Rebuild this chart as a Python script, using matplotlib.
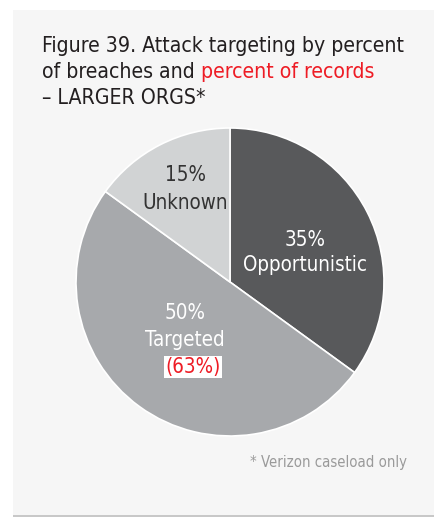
import matplotlib.pyplot as plt
from matplotlib.patches import Rectangle

# data
labels = ["Opportunistic", "Targeted", "Unknown"]
breaches = [35, 50, 15]
records_targeted = 63
colors = ["#58595b", "#a7a9ac", "#d1d3d4"]

red = "#ee1c25"
txt = "#231f20"
plt.rcParams['font.family'] = ['DejaVu Sans']
plt.rcParams['font.stretch'] = 'condensed'

fig = plt.figure(figsize=(4.35, 5.17), dpi=100)
fig.patch.set_facecolor("white")
# grey panel
fig.patches.append(Rectangle((13 / 435, 2 / 517), 1, 505 / 517, transform=fig.transFigure,
                             facecolor="#f6f6f6", edgecolor="none", zorder=-2))
fig.patches.append(Rectangle((13 / 435, 0), 1, 2 / 517, transform=fig.transFigure,
                             facecolor="#c8c8c8", edgecolor="none", zorder=-2))

# title
x0 = 42 / 435
fs = 15.2
fig.text(x0, 1 - 46 / 517, "Figure 39. Attack targeting by percent", fontsize=fs, color=txt, va="center")
t = fig.text(x0, 1 - 72 / 517, "of breaches and ", fontsize=fs, color=txt, va="center")
fig.canvas.draw()
bb = t.get_window_extent(renderer=fig.canvas.get_renderer())
fig.text(bb.x1 / fig.bbox.width, 1 - 72 / 517, "percent of records", fontsize=fs, color=red, va="center")
fig.text(x0, 1 - 98 / 517, "– LARGER ORGS*", fontsize=fs, color=txt, va="center")

# pie
ax = fig.add_axes([76 / 435, 81 / 517, 308 / 435, 308 / 517], zorder=2)
ax.pie(breaches, colors=colors, startangle=90, counterclock=False, radius=1,
       wedgeprops=dict(edgecolor="white", linewidth=1.2))
ax.set_xlim(-1, 1)
ax.set_ylim(-1, 1)
ax.set_aspect("equal")
ax.axis("off")

lfs = 14.8
ax.text(0.487, 0.273, "%d%%" % breaches[0], ha="center", va="center", fontsize=lfs, color="white")
ax.text(0.487, 0.11, labels[0], ha="center", va="center", fontsize=lfs, color="white")
ax.text(-0.292, -0.201, "%d%%" % breaches[1], ha="center", va="center", fontsize=lfs, color="white")
ax.text(-0.292, -0.377, labels[1], ha="center", va="center", fontsize=lfs, color="white")
ax.text(-0.24, -0.552, "(%d%%)" % records_targeted, ha="center", va="center", fontsize=lfs, color=red,
        bbox=dict(facecolor="white", edgecolor="none", pad=1))
ax.text(-0.292, 0.695, "%d%%" % breaches[2], ha="center", va="center", fontsize=lfs, color="#333333")
ax.text(-0.292, 0.513, labels[2], ha="center", va="center", fontsize=lfs, color="#333333")

fig.text(407 / 435, 1 - 463 / 517, "* Verizon caseload only", ha="right", va="center",
         fontsize=10.7, color="#9a9a9a")

fig.savefig("out.png", dpi=100, facecolor=fig.get_facecolor())
